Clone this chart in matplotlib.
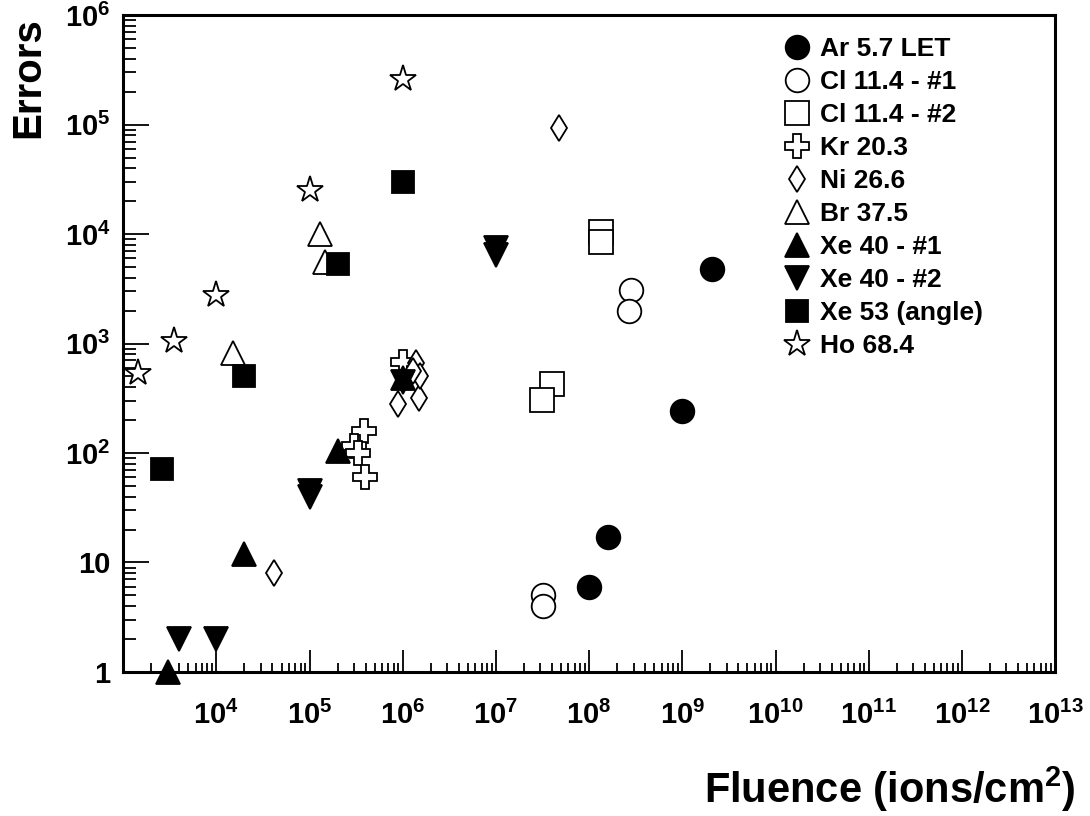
import numpy as np
import matplotlib
matplotlib.use("Agg")
import matplotlib.pyplot as plt
from matplotlib.ticker import FixedLocator, FixedFormatter, LogLocator, NullFormatter

plt.rcParams['font.family'] = ['Liberation Sans', 'DejaVu Sans']
plt.rcParams['font.weight'] = 'bold'
plt.rcParams['mathtext.fontset'] = 'custom'
plt.rcParams['mathtext.rm'] = 'Liberation Sans:bold'
plt.rcParams['mathtext.it'] = 'Liberation Sans:bold'
plt.rcParams['mathtext.bf'] = 'Liberation Sans:bold'
plt.rcParams['mathtext.default'] = 'rm'

# data (fluence in ions/cm2, number of errors)
ar_x = [2.1e9, 1.0e9, 1.6e8, 1.0e8]
ar_y = [4.8e3, 240, 17, 6]
cl1_x = [2.8e8, 2.7e8, 3.2e7, 3.2e7]
cl1_y = [3.1e3, 2.0e3, 5, 4]
cl2_x = [1.35e8, 1.35e8, 4.0e7, 3.1e7]
cl2_y = [1.05e4, 8.5e3, 430, 305]
kr_x = [1.0e6, 3.8e5, 3.0e5, 3.3e5, 3.9e5]
kr_y = [680, 160, 115, 100, 60]
ni_x = [4.8e7, 4.2e4, 9.0e5, 1.5e6, 1.4e6, 1.55e6, 1.3e6]
ni_y = [9.3e4, 8, 280, 320, 660, 500, 560]
br_x = [1.3e5, 1.45e5, 1.5e4]
br_y = [1.0e4, 5.5e3, 820]
xe1_x = [3.0e3, 2.0e4, 2.0e5, 1.0e6]
xe1_y = [1, 12, 105, 480]
xe2_x = [4.0e3, 1.0e4, 1.0e5, 1.0e5, 1.0e7, 1.0e7, 1.0e6]
xe2_y = [2, 2, 45, 40, 7.5e3, 6.5e3, 450]
xe53_x = [2.6e3, 2.0e4, 2.0e5, 1.0e6]
xe53_y = [72, 500, 5.3e3, 3.0e4]
ho_x = [1.45e3, 3.5e3, 1.0e4, 1.0e5, 1.0e6]
ho_y = [540, 1.05e3, 2.8e3, 2.5e4, 2.6e5]

x_ticks = [1e4, 1e5, 1e6, 1e7, 1e8, 1e9, 1e10, 1e11, 1e12, 1e13]
x_tick_labels = ['$10^{%d}$' % k for k in range(4, 14)]
y_ticks = [1, 10, 1e2, 1e3, 1e4, 1e5, 1e6]
y_tick_labels = ['1', '10', '$10^{2}$', '$10^{3}$', '$10^{4}$', '$10^{5}$', '$10^{6}$']

fig = plt.figure(figsize=(10.9, 8.16), dpi=100)
ax = fig.add_axes([0.113, 0.1765, 0.855, 0.805])

series = [
    (ar_x, ar_y, 'o', 'black', 17, 'Ar 5.7 LET'),
    (cl1_x, cl1_y, 'o', 'white', 17, 'Cl 11.4 - #1'),
    (cl2_x, cl2_y, 's', 'white', 17, 'Cl 11.4 - #2'),
    (kr_x, kr_y, 'P', 'white', 17, 'Kr 20.3'),
    (ni_x, ni_y, 'd', 'white', 13, 'Ni 26.6'),
    (br_x, br_y, '^', 'white', 17, 'Br 37.5'),
    (xe1_x, xe1_y, '^', 'black', 17, 'Xe 40 - #1'),
    (xe2_x, xe2_y, 'v', 'black', 17, 'Xe 40 - #2'),
    (xe53_x, xe53_y, 's', 'black', 16, 'Xe 53 (angle)'),
    (ho_x, ho_y, '*', 'white', 20, 'Ho 68.4'),
]
for xs, ys, m, fc, ms, lab in series:
    ax.plot(xs, ys, linestyle='none', marker=m, markersize=ms,
            markerfacecolor=fc, markeredgecolor='black', markeredgewidth=1.3,
            label=lab, clip_on=False, zorder=3)

ax.set_xscale('log')
ax.set_yscale('log')
ax.set_xlim(1e3, 1e13)
ax.set_ylim(1, 1e6)

for s in ax.spines.values():
    s.set_linewidth(2.2)

ax.xaxis.set_major_locator(FixedLocator(x_ticks))
ax.xaxis.set_major_formatter(FixedFormatter(x_tick_labels))
ax.yaxis.set_major_locator(FixedLocator(y_ticks))
ax.yaxis.set_major_formatter(FixedFormatter(y_tick_labels))
ax.xaxis.set_minor_locator(LogLocator(base=10, subs=np.arange(2, 10), numticks=20))
ax.yaxis.set_minor_locator(LogLocator(base=10, subs=np.arange(2, 10), numticks=20))
ax.xaxis.set_minor_formatter(NullFormatter())
ax.yaxis.set_minor_formatter(NullFormatter())

ax.tick_params(axis='x', which='major', direction='in', length=16, width=1.3,
               labelsize=21, pad=21, top=False)
ax.tick_params(axis='x', which='minor', direction='in', length=6.5, width=1.3, top=False)
ax.tick_params(axis='y', which='major', direction='in', length=19, width=1.3,
               labelsize=21, pad=9, right=False)
ax.tick_params(axis='y', which='minor', direction='in', length=9, width=1.3, right=False)

fig.text(28 / 1090, 1 - 17 / 816, 'Errors', rotation=90, ha='center', va='top',
         fontsize=29, fontweight='bold')
fig.text(1076 / 1090, 1 - 803 / 816, 'Fluence (ions/cm$^{2}$)', ha='right', va='baseline',
         fontsize=30, fontweight='bold')

ax.legend(loc='upper left', bbox_to_anchor=(0.709, 0.9665), frameon=False,
          fontsize=19, borderpad=0, borderaxespad=0, handlelength=1.0,
          handletextpad=0.35, labelspacing=0.34, numpoints=1)

fig.savefig('out.png', dpi=100)
